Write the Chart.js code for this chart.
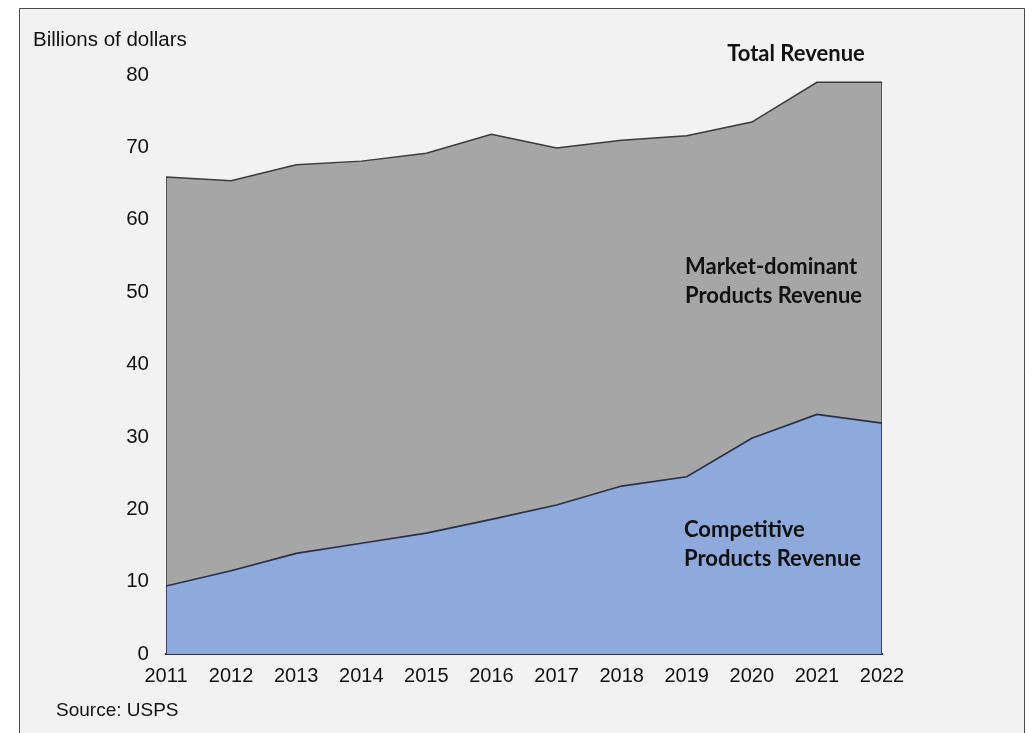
<!DOCTYPE html>
<html>
<head>
<meta charset="utf-8">
<script src="https://cdn.jsdelivr.net/npm/chart.js@4.4.1/dist/chart.umd.min.js"></script>
<style>
  html, body { margin: 0; padding: 0; background: #ffffff; }
  canvas { display: block; }
</style>
</head>
<body>
<canvas id="chart" width="1032" height="733"></canvas>
<script>
// USPS revenue, billions of dollars
const years = [2011, 2012, 2013, 2014, 2015, 2016, 2017, 2018, 2019, 2020, 2021, 2022];
const competitiveRevenue = [9.4, 11.5, 13.9, 15.3, 16.7, 18.6, 20.6, 23.2, 24.5, 29.8, 33.1, 31.9];
const totalRevenue = [65.9, 65.4, 67.6, 68.1, 69.2, 71.8, 69.9, 71.0, 71.6, 73.5, 79.0, 79.0];
const yTicks = [0, 10, 20, 30, 40, 50, 60, 70, 80];

// Closed outline: baseline -> values -> baseline, so the area gets its side edges
function areaOutline(values) {
  const pts = years.map((yr, i) => ({ x: yr, y: values[i] }));
  return [{ x: years[0], y: 0 }, ...pts, { x: years[years.length - 1], y: 0 }];
}

const AXIS_FONT = "'Liberation Sans', Arial, Helvetica, sans-serif";
const NOTE_FONT = "Lato, 'Open Sans', sans-serif";

const decorations = {
  id: 'decorations',
  beforeDraw(chart) {
    const ctx = chart.ctx;
    ctx.save();
    ctx.fillStyle = '#ffffff';
    ctx.fillRect(0, 0, chart.width, chart.height);
    ctx.fillStyle = '#f2f2f2';
    ctx.fillRect(19, 8, 1005, chart.height);
    ctx.strokeStyle = '#4a4a4a';
    ctx.lineWidth = 1;
    ctx.beginPath();
    ctx.moveTo(19.5, chart.height + 2);
    ctx.lineTo(19.5, 8.5);
    ctx.lineTo(1024.5, 8.5);
    ctx.lineTo(1024.5, chart.height + 2);
    ctx.stroke();
    ctx.restore();
  },
  afterDraw(chart) {
    const ctx = chart.ctx;
    ctx.save();
    ctx.fillStyle = '#111111';
    ctx.textBaseline = 'middle';
    ctx.textAlign = 'left';
    ctx.font = '20.5px ' + AXIS_FONT;
    ctx.fillText('Billions of dollars', 33, 40);
    ctx.font = '19px ' + AXIS_FONT;
    ctx.fillText('Source: USPS', 56, 711);

    ctx.font = 'bold 22px ' + NOTE_FONT;
    ctx.textAlign = 'center';
    ctx.fillText('Total Revenue', 796, 54);
    ctx.textAlign = 'left';
    ctx.fillText('Market-dominant', 685, 267);
    ctx.fillText('Products Revenue', 685, 296);
    ctx.fillText('Competitive', 684, 530);
    ctx.fillText('Products Revenue', 684, 559);
    ctx.restore();
  }
};

new Chart(document.getElementById('chart'), {
  type: 'scatter',
  data: {
    datasets: [
      {
        label: 'Competitive Products Revenue',
        data: areaOutline(competitiveRevenue),
        showLine: true,
        fill: 'origin',
        backgroundColor: '#8eaadc',
        borderColor: '#27304a',
        borderWidth: 1.6,
        pointRadius: 0,
        tension: 0
      },
      {
        label: 'Total Revenue',
        data: areaOutline(totalRevenue),
        showLine: true,
        fill: 'origin',
        backgroundColor: '#a6a6a6',
        borderColor: '#3a3a3a',
        borderWidth: 1.5,
        pointRadius: 0,
        tension: 0
      }
    ]
  },
  options: {
    responsive: false,
    devicePixelRatio: 1,
    animation: false,
    events: [],
    layout: { padding: { left: 0, right: 150, top: 75, bottom: 0 } },
    plugins: {
      legend: { display: false },
      tooltip: { enabled: false },
      title: { display: false }
    },
    scales: {
      x: {
        type: 'linear',
        min: years[0],
        max: years[years.length - 1],
        afterBuildTicks(scale) { scale.ticks = years.map(v => ({ value: v })); },
        afterFit(scale) { scale.height = 79; },
        grid: { display: false },
        border: { display: true, color: '#2b3245', width: 2 },
        ticks: {
          padding: 2,
          color: '#111111',
          font: { family: AXIS_FONT, size: 20 },
          callback: v => String(v),
          maxRotation: 0,
          autoSkip: false
        }
      },
      y: {
        min: 0,
        max: 80,
        afterBuildTicks(scale) { scale.ticks = yTicks.map(v => ({ value: v })); },
        afterFit(scale) { scale.width = 166; },
        grid: { display: false },
        border: { display: false },
        ticks: {
          padding: 9,
          color: '#111111',
          font: { family: AXIS_FONT, size: 20.5 }
        }
      }
    }
  },
  plugins: [decorations]
});
</script>
</body>
</html>
